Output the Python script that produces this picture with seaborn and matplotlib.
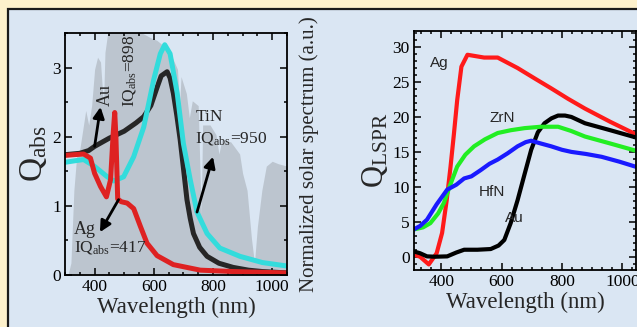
import numpy as np
import pandas as pd
import matplotlib
matplotlib.use("Agg")
import matplotlib.pyplot as plt
from matplotlib.patches import Rectangle
from matplotlib.ticker import MultipleLocator, AutoMinorLocator
import seaborn as sns

# ---------------- data ----------------
# Left panel: absorption efficiency Q_abs
au_wl = [300, 350, 380, 400, 450, 500, 540, 566, 590, 610, 625, 645, 655, 666, 678, 689,
         700, 712, 723, 734, 755, 780, 820, 868, 920, 967, 1050]
au_q = [1.74, 1.76, 1.80, 1.86, 1.98, 2.08, 2.20, 2.29, 2.45, 2.70, 2.88, 2.94, 2.85, 2.63,
        2.30, 1.96, 1.55, 1.09, 0.82, 0.60, 0.40, 0.27, 0.17, 0.11, 0.07, 0.05, 0.03]

tin_wl = [300, 330, 363, 400, 443, 465, 498, 532, 566, 600, 622, 637, 655, 679, 700, 723,
          746, 780, 823, 891, 967, 1050]
tin_q = [1.63, 1.65, 1.67, 1.57, 1.42, 1.36, 1.42, 1.71, 2.14, 2.83, 3.20, 3.33, 3.20, 2.63,
         1.90, 1.38, 0.91, 0.60, 0.39, 0.27, 0.18, 0.13]

ag_wl = [300, 330, 363, 386, 400, 420, 440, 454, 463, 468, 472, 478, 490, 510, 532, 555,
         577, 611, 666, 757, 868, 1050]
ag_q = [1.73, 1.74, 1.75, 1.69, 1.47, 1.28, 1.13, 1.38, 2.06, 2.35, 2.00, 1.10, 1.06, 1.04,
        0.96, 0.70, 0.46, 0.28, 0.15, 0.07, 0.05, 0.03]

# Normalized solar spectrum (background)
sol_wl = [310, 320, 330, 340, 350, 360, 370, 380, 390, 400, 410, 420, 430, 435, 450, 500,
          520, 540, 560, 590, 610, 630, 650, 656, 662, 680, 687, 692, 710, 720, 730, 750,
          760, 765, 790, 810, 820, 830, 860, 890, 900, 915, 930, 940, 950, 965, 980, 1000,
          1020, 1050]
sol_val = [0.0, 0.05, 0.35, 0.50, 0.52, 0.60, 0.68, 0.62, 0.70, 0.85, 0.90, 0.88, 0.70, 0.92,
           1.05, 1.05, 1.00, 1.02, 1.00, 0.98, 0.97, 0.95, 0.93, 0.80, 0.90, 0.85, 0.70, 0.82,
           0.75, 0.65, 0.72, 0.70, 0.25, 0.62, 0.62, 0.58, 0.50, 0.56, 0.55, 0.50, 0.42, 0.35,
           0.15, 0.05, 0.20, 0.35, 0.45, 0.47, 0.46, 0.45]

# Right panel: Q_LSPR
r_ag_wl = [309, 330, 359, 385, 403, 418, 431, 442, 453, 467, 487, 542, 587, 653, 710, 764,
           820, 876, 960, 1050]
r_ag_q = [0.3, 0.0, -1.1, 0.5, 3.4, 8.0, 12.9, 17.5, 22.4, 27.2, 28.9, 28.5, 28.5, 27.0,
          25.5, 24.1, 22.6, 21.2, 19.3, 17.4]

r_au_wl = [309, 330, 353, 380, 420, 450, 476, 520, 564, 590, 609, 630, 653, 676, 698, 720,
           742, 765, 787, 810, 831, 876, 960, 1050]
r_au_q = [0.76, 0.5, 0.05, 0.0, 0.05, 0.6, 1.0, 1.0, 1.1, 1.6, 2.4, 4.8, 8.1, 11.8, 15.3,
          17.8, 19.1, 19.8, 20.2, 20.2, 20.0, 19.1, 18.1, 17.0]

r_zrn_wl = [309, 340, 364, 390, 409, 430, 453, 480, 509, 545, 587, 630, 676, 730, 787, 830,
            876, 960, 1050]
r_zrn_q = [3.9, 4.2, 4.8, 6.2, 7.7, 10.3, 12.9, 14.6, 15.8, 16.8, 17.7, 18.1, 18.4, 18.6,
           18.6, 18.0, 17.2, 16.2, 15.1]

r_hfn_wl = [309, 330, 353, 385, 420, 450, 476, 500, 531, 560, 587, 620, 653, 680, 698, 730,
            764, 800, 831, 880, 931, 990, 1050]
r_hfn_q = [3.9, 4.4, 5.3, 7.5, 9.6, 10.3, 11.2, 11.5, 12.4, 13.3, 13.9, 14.8, 15.8, 16.4,
           16.6, 16.2, 15.8, 15.3, 15.0, 14.7, 14.3, 13.6, 12.8]

# ---------------- style ----------------
sns.set_theme(style="ticks")
serif = ["Liberation Serif", "DejaVu Serif"]
plt.rcParams["font.family"] = serif
plt.rcParams["mathtext.fontset"] = "custom"
plt.rcParams["mathtext.rm"] = "Liberation Serif"
plt.rcParams["mathtext.it"] = "Liberation Serif:italic"
plt.rcParams["mathtext.bf"] = "Liberation Serif:bold"
plt.rcParams["mathtext.default"] = "regular"
plt.rcParams["axes.formatter.use_mathtext"] = False
plt.rcParams["axes.linewidth"] = 1.3

cream = "#FDF1CC"
bluebg = "#DAE6F3"

fig = plt.figure(figsize=(6.37, 3.27), dpi=100, facecolor=cream)
fig.add_artist(Rectangle((8 / 637, -0.1), 1.2, 1.1 - 9 / 327, transform=fig.transFigure,
                         facecolor=bluebg, edgecolor="#1a1a1a", lw=1.6, zorder=-10))

def style_ticks(ax, size=12.5):
    ax.tick_params(which="both", direction="in", top=True, right=True,
                   labelsize=size, colors="black", width=1.1, pad=3)
    ax.tick_params(which="major", length=5)
    ax.tick_params(which="minor", length=2.5)
    for sp in ax.spines.values():
        sp.set_color("black")
        sp.set_visible(True)

# ---------------- left panel ----------------
axL = fig.add_axes([65 / 637, 1 - 275 / 327, 222 / 637, 242 / 327])
axS = axL.twinx()
axS.fill_between(sol_wl, 0, sol_val, color="#7d8185", alpha=0.32, lw=0, zorder=0)
axS.set_ylim(0, 1)
axS.set_yticks([])
axS.set_ylabel("Normalized solar spectrum (a.u.)", fontsize=15, labelpad=9)
axL.set_zorder(axS.get_zorder() + 1)
axL.patch.set_visible(False)
axS.patch.set_visible(False)
for sp in axS.spines.values():
    sp.set_visible(False)

left_df = pd.concat([
    pd.DataFrame({"wl": au_wl, "q": au_q, "m": "Au"}),
    pd.DataFrame({"wl": tin_wl, "q": tin_q, "m": "TiN"}),
    pd.DataFrame({"wl": ag_wl, "q": ag_q, "m": "Ag"}),
])
sns.lineplot(data=left_df, x="wl", y="q", hue="m", sort=False, ax=axL, legend=False,
             palette={"Au": "#262626", "TiN": "#33DCDC", "Ag": "#DE2222"},
             hue_order=["Au", "TiN", "Ag"], lw=3.6, estimator=None)
axL.set_xlim(300, 1050)
axL.set_ylim(0, 3.5)
axL.xaxis.set_major_locator(MultipleLocator(200))
axL.xaxis.set_minor_locator(MultipleLocator(50))
axL.yaxis.set_major_locator(MultipleLocator(1))
axL.yaxis.set_minor_locator(MultipleLocator(0.5))
style_ticks(axL)
axL.set_xlabel("Wavelength (nm)", fontsize=16.5, labelpad=1)
axL.set_ylabel(r"Q$_\mathregular{abs}$", fontsize=24, labelpad=2)

arrow = dict(arrowstyle="-|>,head_length=0.55,head_width=0.28", lw=2, color="black",
             shrinkA=0, shrinkB=0)
axL.annotate("", xy=(420, 2.43), xytext=(400, 1.86), arrowprops=arrow)
axL.annotate("", xy=(800, 1.71), xytext=(746, 0.91), arrowprops=arrow)
axL.annotate("", xy=(418, 0.62), xytext=(481, 1.09), arrowprops=arrow)
axL.text(437, 2.6, "Au", rotation=90, ha="center", va="center", fontsize=13)
axL.text(518, 2.95, r"IQ$_\mathregular{abs}$=898", rotation=90, ha="center", va="center",
         fontsize=12.5)
axL.text(740, 2.28, "TiN", ha="left", va="center", fontsize=12.5)
axL.text(740, 1.98, r"IQ$_\mathregular{abs}$=950", ha="left", va="center", fontsize=12.5)
axL.text(329, 0.66, "Ag", ha="left", va="center", fontsize=13)
axL.text(329, 0.40, r"IQ$_\mathregular{abs}$=417", ha="left", va="center", fontsize=12.5)

# ---------------- right panel ----------------
axR = fig.add_axes([414 / 637, 1 - 270 / 327, 222 / 637, 239 / 327])
axR.patch.set_visible(False)
right_df = pd.concat([
    pd.DataFrame({"wl": r_ag_wl, "q": r_ag_q, "m": "Ag"}),
    pd.DataFrame({"wl": r_au_wl, "q": r_au_q, "m": "Au"}),
    pd.DataFrame({"wl": r_zrn_wl, "q": r_zrn_q, "m": "ZrN"}),
    pd.DataFrame({"wl": r_hfn_wl, "q": r_hfn_q, "m": "HfN"}),
])
sns.lineplot(data=right_df, x="wl", y="q", hue="m", sort=False, ax=axR, legend=False,
             palette={"Ag": "#FF1A1A", "Au": "#000000", "ZrN": "#22EE22", "HfN": "#1A1AFF"},
             hue_order=["Ag", "Au", "ZrN", "HfN"], lw=3.0, estimator=None)
axR.set_xlim(310, 1045)
axR.set_ylim(-1.9, 32.3)
axR.xaxis.set_major_locator(MultipleLocator(200))
axR.xaxis.set_minor_locator(AutoMinorLocator(6))
axR.yaxis.set_major_locator(MultipleLocator(5))
axR.yaxis.set_minor_locator(MultipleLocator(1))
style_ticks(axR)
axR.set_xlabel("Wavelength (nm)", fontsize=16.5, labelpad=1)
axR.set_ylabel(r"Q$_\mathregular{LSPR}$", fontsize=22, labelpad=2)

sans = ["Liberation Sans", "DejaVu Sans"]
axR.text(364, 27.7, "Ag", ha="left", va="center", fontsize=11, family=sans)
axR.text(559, 19.8, "ZrN", ha="left", va="center", fontsize=11, family=sans)
axR.text(526, 9.3, "HfN", ha="left", va="center", fontsize=11, family=sans)
axR.text(612, 5.5, "Au", ha="left", va="center", fontsize=11, family=sans)

fig.savefig("out.png", dpi=100, facecolor=cream)
